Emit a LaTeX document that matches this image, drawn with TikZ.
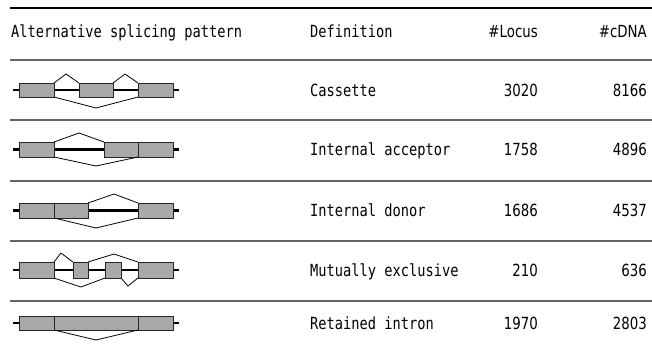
\documentclass[tikz,border=0pt]{standalone}
\usepackage{fontspec}
\newfontfamily\gothic[FakeStretch=0.82]{DejaVu Sans Mono}
\newfontfamily\numf[FakeStretch=0.8]{DejaVu Sans}
\definecolor{exonfill}{RGB}{168,168,168}
\definecolor{rulegray}{RGB}{100,100,100}
\tikzset{
  lbl/.style={inner sep=0pt, anchor=base west, font=\gothic\fontsize{16.7}{18}\selectfont},
  num/.style={inner sep=0pt, anchor=base east, font=\numf\fontsize{16.7}{18}\selectfont},
  exon/.style={fill=exonfill, draw=black!85, line width=0.9pt},
  backbone/.style={line width=2.3pt, black},
  junction/.style={line width=0.8pt, black, line join=miter},
  toprule/.style={line width=1.8pt, black},
  midrule/.style={line width=2pt, rulegray},
  rowrule/.style={line width=1.6pt, rulegray}
}
\begin{document}
\begin{tikzpicture}[x=1pt,y=-1pt]
\useasboundingbox (0,0) rectangle (652,349);
% rules
\coordinate (r0l) at (10,8);   \coordinate (r0r) at (652,8);
\coordinate (r1l) at (10,60);  \coordinate (r1r) at (652,60);
\coordinate (r2l) at (10,120); \coordinate (r2r) at (652,120);
\coordinate (r3l) at (10,181); \coordinate (r3r) at (652,181);
\coordinate (r4l) at (10,241); \coordinate (r4r) at (652,241);
\coordinate (r5l) at (10,301); \coordinate (r5r) at (652,301);
\draw[toprule] (r0l) -- (r0r);
\draw[midrule] (r1l) -- (r1r);
\draw[rowrule] (r2l) -- (r2r);
\draw[rowrule] (r3l) -- (r3r);
\draw[rowrule] (r4l) -- (r4r);
\draw[rowrule] (r5l) -- (r5r);
% header
\node[lbl] (hpat) at (11,37) {Alternative splicing pattern};
\node[lbl] (hdef) at (310,37) {Definition};
\node[num] (hloc) at (538,37) {\#Locus};
\node[num] (hcdna) at (647,37) {\#cDNA};
% row texts
\node[lbl] (d1) at (310,96) {Cassette};
\node[num] (l1) at (538,96) {3020};
\node[num] (c1) at (647,96) {8166};
\node[lbl] (d2) at (310,155.5) {Internal acceptor};
\node[num] (l2) at (538,155.5) {1758};
\node[num] (c2) at (647,155.5) {4896};
\node[lbl] (d3) at (310,216.5) {Internal donor};
\node[num] (l3) at (538,216.5) {1686};
\node[num] (c3) at (647,216.5) {4537};
\node[lbl] (d4) at (310,276) {Mutually exclusive};
\node[num] (l4) at (538,276) {210};
\node[num] (c4) at (647,276) {636};
\node[lbl] (d5) at (310,329) {Retained intron};
\node[num] (l5) at (538,329) {1970};
\node[num] (c5) at (647,329) {2803};
% Row 1: Cassette, yc=90
\draw[backbone] (13,90) -- (179,90);
\draw[exon] (19,83) rectangle (54,97);
\draw[exon] (79,83) rectangle (113,97);
\draw[exon] (138,83) rectangle (173,97);
\draw[junction] (54,83) -- (66,74) -- (79,83);
\draw[junction] (113,83) -- (125,74) -- (138,83);
\draw[junction] (54,97) -- (96,108) -- (138,97);
% Row 2: Internal acceptor, yc=149.5
\draw[backbone] (13,149.5) -- (179,149.5);
\draw[exon] (19,142) rectangle (54,157);
\draw[exon] (104,142) rectangle (138,157);
\draw[exon] (138,142) rectangle (173,157);
\draw[junction] (54,142) -- (79,133) -- (104,142);
\draw[junction] (54,157) -- (96,166) -- (138,157);
% Row 3: Internal donor, yc=210.5
\draw[backbone] (13,210.5) -- (179,210.5);
\draw[exon] (19,203) rectangle (54,218);
\draw[exon] (54,203) rectangle (88,218);
\draw[exon] (138,203) rectangle (173,218);
\draw[junction] (88,203) -- (114,194) -- (138,203);
\draw[junction] (54,218) -- (96,228) -- (138,218);
% Row 4: Mutually exclusive, yc=270
\draw[backbone] (13,270) -- (179,270);
\draw[exon] (19,262) rectangle (54,278);
\draw[exon] (73,262) rectangle (88,278);
\draw[exon] (105,262) rectangle (121,278);
\draw[exon] (138,262) rectangle (173,278);
\draw[junction] (54,262) -- (61,253) -- (73,262);
\draw[junction] (88,262) -- (114,254) -- (138,262);
\draw[junction] (54,278) -- (81,287) -- (105,278);
\draw[junction] (121,278) -- (128,286) -- (138,278);
% Row 5: Retained intron, yc=323
\draw[backbone] (13,323) -- (179,323);
\draw[exon] (19,316) rectangle (54,330);
\draw[exon] (54,316) rectangle (138,330);
\draw[exon] (138,316) rectangle (173,330);
\draw[junction] (54,330) -- (96,340) -- (138,330);
\end{tikzpicture}
\end{document}
